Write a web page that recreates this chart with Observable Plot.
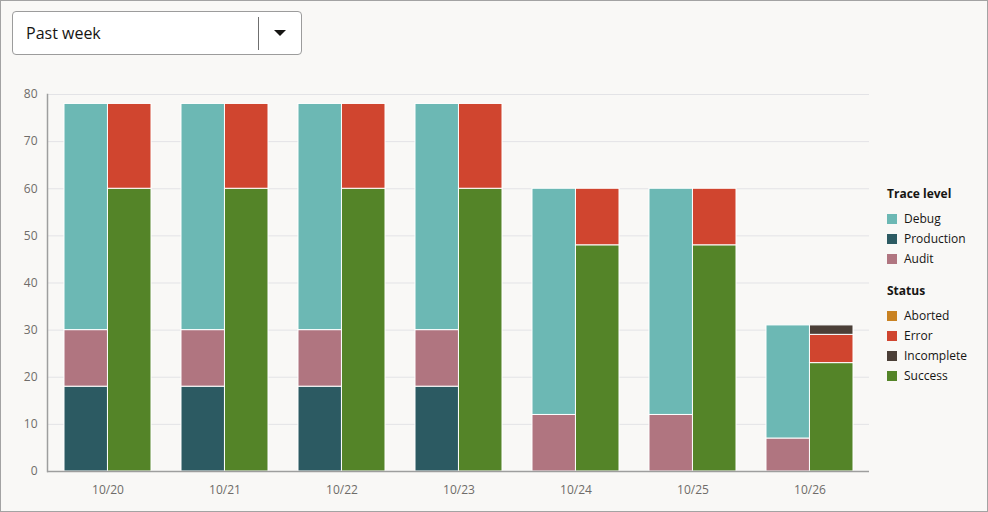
<!DOCTYPE html>
<html>
<head>
<meta charset="utf-8">
<script src="https://cdn.jsdelivr.net/npm/d3@7"></script>
<script src="https://cdn.jsdelivr.net/npm/@observablehq/plot@0.6"></script>
<style>
  html, body { margin: 0; padding: 0; }
  body { width: 988px; height: 512px; overflow: hidden; background: #f9f8f6; position: relative;
         font-family: "Open Sans", "Noto Sans", sans-serif; color: #161513; }
  #frame { position: absolute; left: 0; top: 0; width: 988px; height: 512px; box-sizing: border-box;
           border: 1px solid #a3a3a3; pointer-events: none; z-index: 5; }
  #select { position: absolute; left: 12px; top: 11px; width: 290px; height: 44px; box-sizing: border-box;
            border: 1px solid #9c9c9c; border-radius: 4px; background: #fff; }
  #select .label { position: absolute; left: 13px; top: 0; line-height: 42px; font-size: 16px; color: #161513; }
  #select .div { position: absolute; left: 245px; top: 5px; width: 1px; height: 33px; background: #6f6f6f; }
  #select .caret { position: absolute; left: 261px; top: 18px; width: 0; height: 0;
                   border-left: 6px solid transparent; border-right: 6px solid transparent; border-top: 6px solid #161513; }
  #chart { position: absolute; left: 0; top: 80px; }
  #legend { position: absolute; left: 887px; top: 1px; font-size: 12px; }
  #legend .t { position: absolute; left: 0; white-space: nowrap; font-weight: 700; line-height: 20px; }
  #legend .i { position: absolute; left: 0; white-space: nowrap; line-height: 20px; }
  #legend .sw { position: absolute; left: 0; top: 5px; width: 10px; height: 10px; }
  #legend .tx { position: absolute; left: 17px; top: 0; }
</style>
</head>
<body>
<div id="frame"></div>
<div id="select"><span class="label">Past week</span><span class="div"></span><span class="caret"></span></div>
<div id="chart"></div>
<div id="legend"></div>
<script>
// ---- data ----
const dates = ["10/20", "10/21", "10/22", "10/23", "10/24", "10/25", "10/26"];

// Trace level (left bar of each day)
const debug      = [48, 48, 48, 48, 48, 48, 24];
const production = [18, 18, 18, 18, 0, 0, 0];
const audit      = [12, 12, 12, 12, 12, 12, 7];

// Status (right bar of each day)
const aborted    = [0, 0, 0, 0, 0, 0, 0];
const error      = [18, 18, 18, 18, 12, 12, 6];
const incomplete = [0, 0, 0, 0, 0, 0, 2];
const success    = [60, 60, 60, 60, 48, 48, 23];

const traceLevels = ["Debug", "Production", "Audit"];
const statuses = ["Aborted", "Error", "Incomplete", "Success"];
const yTicks = [0, 10, 20, 30, 40, 50, 60, 70, 80];

const traceColors  = ["#6cb8b4", "#2c5a62", "#b07580"];
const statusColors = ["#c98222", "#d0452f", "#4b3f37", "#548428"];

// stack order, bottom to top
const traceStack = [["Production", production], ["Audit", audit], ["Debug", debug]];
const statusStack = [["Success", success], ["Aborted", aborted], ["Error", error], ["Incomplete", incomplete]];

const traceRows = dates.flatMap((date, i) =>
  traceStack.map(([key, arr]) => ({date, key, value: arr[i]}))).filter(d => d.value > 0);
const statusRows = dates.flatMap((date, i) =>
  statusStack.map(([key, arr]) => ({date, key, value: arr[i]}))).filter(d => d.value > 0);

// ---- layout ----
const W = 988, H = 450;
const mL = 47, mR = 119, mT = 14, mB = 59;
const pIn = 0.26, pOut = 0.13;
const step = (W - mL - mR) / (dates.length - pIn + 2 * pOut);
const half = step * (1 - pIn) / 2;

const chart = Plot.plot({
  width: W, height: H,
  marginLeft: mL, marginRight: mR, marginTop: mT, marginBottom: mB,
  style: {background: "transparent", fontFamily: "'Open Sans', 'Noto Sans', sans-serif", fontSize: "12px", color: "#6f6c69"},
  x: {domain: dates, paddingInner: pIn, paddingOuter: pOut, label: null},
  y: {domain: [0, 80], label: null},
  color: {domain: [...traceLevels, ...statuses], range: [...traceColors, ...statusColors]},
  marks: [
    Plot.gridY(yTicks, {stroke: "#e3e3e6", strokeOpacity: 1}),
    Plot.barY(traceRows, {x: "date", y: "value", fill: "key", insetRight: half, stroke: "white", strokeWidth: 1}),
    Plot.barY(statusRows, {x: "date", y: "value", fill: "key", insetLeft: half, stroke: "white", strokeWidth: 1}),
    Plot.axisY({ticks: yTicks, tickSize: 0, tickPadding: 10, label: null}),
    Plot.axisX({tickSize: 0, tickPadding: 14, label: "Date", labelAnchor: "center", labelOffset: 50}),
    Plot.ruleY([0], {stroke: "#9e9e9e", strokeWidth: 1.5}),
    Plot.frame({anchor: "left", stroke: "#9e9e9e", strokeWidth: 1.5})
  ]
});
document.getElementById("chart").appendChild(chart);

// ---- legend ----
const legend = document.getElementById("legend");
function addTitle(text, cy) {
  const t = document.createElement("div");
  t.className = "t"; t.style.top = (cy - 10) + "px"; t.textContent = text;
  legend.appendChild(t);
}
function addItem(text, color, cy) {
  const it = document.createElement("div");
  it.className = "i"; it.style.top = (cy - 10) + "px";
  it.innerHTML = `<span class="sw" style="background:${color}"></span><span class="tx"></span>`;
  it.querySelector(".tx").textContent = text;
  legend.appendChild(it);
}
addTitle("Trace level", 193);
traceLevels.forEach((k, i) => addItem(k, traceColors[i], 218 + 20 * i));
addTitle("Status", 290);
statuses.forEach((k, i) => addItem(k, statusColors[i], 315 + 20 * i));
</script>
</body>
</html>
